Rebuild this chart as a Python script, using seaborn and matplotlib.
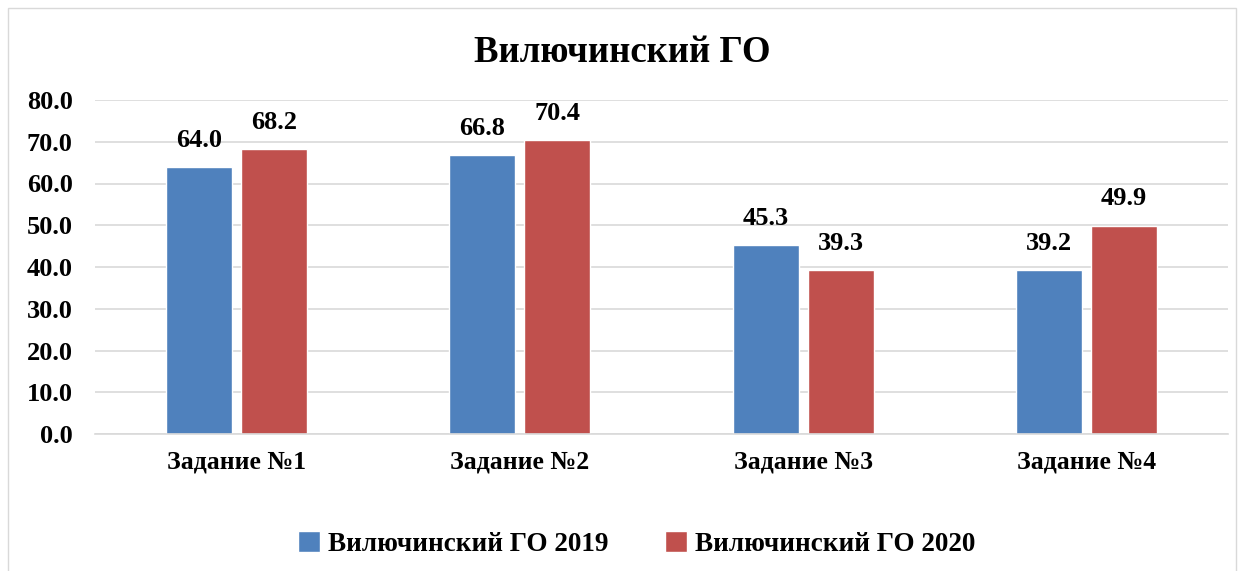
import pandas as pd
import seaborn as sns

import matplotlib
matplotlib.use('Agg')
import matplotlib.pyplot as plt
from matplotlib.patches import Rectangle

# chart data
tasks = ['Задание №1', 'Задание №2', 'Задание №3', 'Задание №4']
series = ['Вилючинский ГО 2019', 'Вилючинский ГО 2020']
values_2019 = [64.0, 66.8, 45.3, 39.2]
values_2020 = [68.2, 70.4, 39.3, 49.9]
yticks = [0, 10, 20, 30, 40, 50, 60, 70, 80]

df = pd.DataFrame({
    'task': tasks * 2,
    'series': [series[0]] * 4 + [series[1]] * 4,
    'value': values_2019 + values_2020,
})

sns.set_theme(style='white')
plt.rcParams['font.family'] = ['Liberation Serif', 'DejaVu Serif']
plt.rcParams['font.weight'] = 'bold'
plt.rcParams['text.color'] = 'black'
plt.rcParams['xtick.color'] = 'black'
plt.rcParams['ytick.color'] = 'black'

fig = plt.figure(figsize=(12.45, 5.71), dpi=100)
ax = fig.add_axes([95 / 1245, 1 - 434 / 571, 1133 / 1245, 334 / 571])

palette = {series[0]: '#4F81BD', series[1]: '#C0504D'}
sns.barplot(data=df, x='task', y='value', hue='series', palette=palette,
            width=0.53, gap=0.12, saturation=1, ax=ax, legend=True)

ax.set_ylim(0, 80)
ax.set_xlim(-0.5, 3.5)
ax.set_yticks(yticks)
ax.set_yticklabels([f'{t:.1f}' for t in yticks], fontsize=19, fontweight='bold')
ax.tick_params(axis='x', labelsize=18.5, pad=12, length=0)
ax.tick_params(axis='y', length=0, pad=16)
for lbl in ax.get_xticklabels():
    lbl.set_fontweight('bold')
ax.set_xlabel('')
ax.set_ylabel('')
ax.grid(axis='y', color='#d9d9d9', linewidth=1.2)
ax.set_axisbelow(True)
for s in ['top', 'right', 'left']:
    ax.spines[s].set_visible(False)
ax.spines['bottom'].set_color('#d9d9d9')
ax.spines['bottom'].set_linewidth(1.2)

for cont in ax.containers:
    ax.bar_label(cont, fmt='%.1f', padding=11, fontsize=19, fontweight='bold',
                 color='black')

fig.text(0.5, 1 - 52 / 571, 'Вилючинский ГО', ha='center', va='center',
         fontsize=26.5, fontweight='bold', color='black')

ax.legend(loc='center', bbox_to_anchor=(0.478, -0.33), ncol=2, frameon=False,
          prop={'weight': 'bold', 'size': 19.5},
          handlelength=0.8, handleheight=0.8, columnspacing=2.1, handletextpad=0.3)

fig.patches.append(Rectangle((8 / 1245, -0.01), 1228 / 1245, 1 - 8 / 571 + 0.01,
                             transform=fig.transFigure, fill=False,
                             edgecolor='#d9d9d9', linewidth=1))

fig.savefig('out.png', dpi=100)
